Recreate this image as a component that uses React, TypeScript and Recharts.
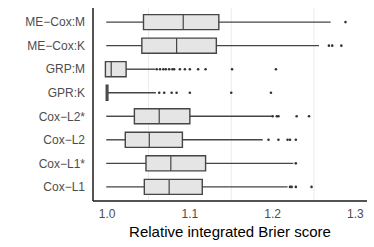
import React from "react";
import {
  ScatterChart,
  Scatter,
  XAxis,
  YAxis,
  CartesianGrid,
  ReferenceLine,
  ReferenceArea,
} from "recharts";

const categories = [
  "ME−Cox:M",
  "ME−Cox:K",
  "GRP:M",
  "GPR:K",
  "Cox−L2*",
  "Cox−L2",
  "Cox−L1*",
  "Cox−L1",
];
const whiskerLow = [0.999, 0.999, 0.998, 0.999, 0.999, 0.999, 0.999, 0.999];
const q1 = [1.044, 1.042, 0.998, 0.999, 1.033, 1.022, 1.047, 1.045];
const median = [1.092, 1.084, 1.005, 1.0, 1.063, 1.051, 1.077, 1.075];
const q3 = [1.135, 1.132, 1.023, 1.001, 1.1, 1.091, 1.119, 1.115];
const whiskerHigh = [1.27, 1.256, 1.058, 1.059, 1.199, 1.188, 1.225, 1.218];
const outliers = [
  [1.288],
  [1.268, 1.272, 1.283],
  [1.06, 1.064, 1.068, 1.071, 1.075, 1.079, 1.081, 1.088, 1.094, 1.1, 1.11, 1.119, 1.151, 1.204],
  [1.063, 1.069, 1.078, 1.084, 1.1, 1.15, 1.198],
  [1.2, 1.205, 1.207, 1.229, 1.244],
  [1.195, 1.207, 1.218, 1.221, 1.228],
  [1.228],
  [1.221, 1.223, 1.228, 1.247],
];
const xTicks = [1.0, 1.1, 1.2, 1.3];
const gridLines = [1.05, 1.15, 1.25];

const rows = categories.map((_, i) => i + 1);
const outlierData = outliers.flatMap((vals, i) =>
  vals.map((v) => ({ x: v, y: i + 1 }))
);

const boxStroke = "#454545";
const half = 0.32;

export default function App() {
  return (
    <div style={{ position: "absolute", left: 0, top: 0 }}>
      <ScatterChart
        width={374}
        height={247}
        margin={{ top: 8, right: 7, bottom: 0, left: 0 }}
        style={{ fontFamily: "'Liberation Sans', Arial, sans-serif" }}
      >
        <CartesianGrid
          horizontal={false}
          verticalValues={gridLines}
          stroke="#ebebeb"
          strokeDasharray=""
        />
        <XAxis
          type="number"
          dataKey="x"
          domain={[0.983, 1.314]}
          ticks={xTicks}
          allowDataOverflow
          tickFormatter={(v: number) => v.toFixed(1)}
          tickLine={false}
          axisLine={{ stroke: "#1a1a1a", strokeWidth: 1.5 }}
          tick={{ fill: "#4d4d4d", fontSize: 12 }}
          height={46}
          label={{
            value: "Relative integrated Brier score",
            position: "insideBottom",
            offset: 10,
            fill: "#000",
            fontSize: 15,
          }}
        />
        <YAxis
          type="number"
          dataKey="y"
          domain={[0.4, 8.6]}
          reversed
          ticks={rows}
          interval={0}
          allowDataOverflow
          tickFormatter={(v: number) => categories[v - 1]}
          tickLine={false}
          axisLine={{ stroke: "#1a1a1a", strokeWidth: 1.5 }}
          tick={{ fill: "#4d4d4d", fontSize: 12 }}
          width={93}
        />

        {rows.map((r, i) => (
          <ReferenceLine
            key={`wl${r}`}
            segment={[
              { x: whiskerLow[i], y: r },
              { x: q1[i], y: r },
            ]}
            stroke={boxStroke}
            strokeWidth={1.4}
          />
        ))}
        {rows.map((r, i) => (
          <ReferenceLine
            key={`wh${r}`}
            segment={[
              { x: q3[i], y: r },
              { x: whiskerHigh[i], y: r },
            ]}
            stroke={boxStroke}
            strokeWidth={1.4}
          />
        ))}
        {rows.map((r, i) => (
          <ReferenceArea
            key={`b${r}`}
            x1={q1[i]}
            x2={q3[i]}
            y1={r - half}
            y2={r + half}
            fill="#e5e5e5"
            fillOpacity={1}
            stroke={boxStroke}
            strokeWidth={1.4}
          />
        ))}
        {rows.map((r, i) => (
          <ReferenceLine
            key={`m${r}`}
            segment={[
              { x: median[i], y: r - half },
              { x: median[i], y: r + half },
            ]}
            stroke={boxStroke}
            strokeWidth={1.2}
          />
        ))}

        <Scatter
          data={outlierData}
          isAnimationActive={false}
          shape={(p: any) => <circle cx={p.cx} cy={p.cy} r={1.3} fill="#333" />}
        />
      </ScatterChart>
    </div>
  );
}
